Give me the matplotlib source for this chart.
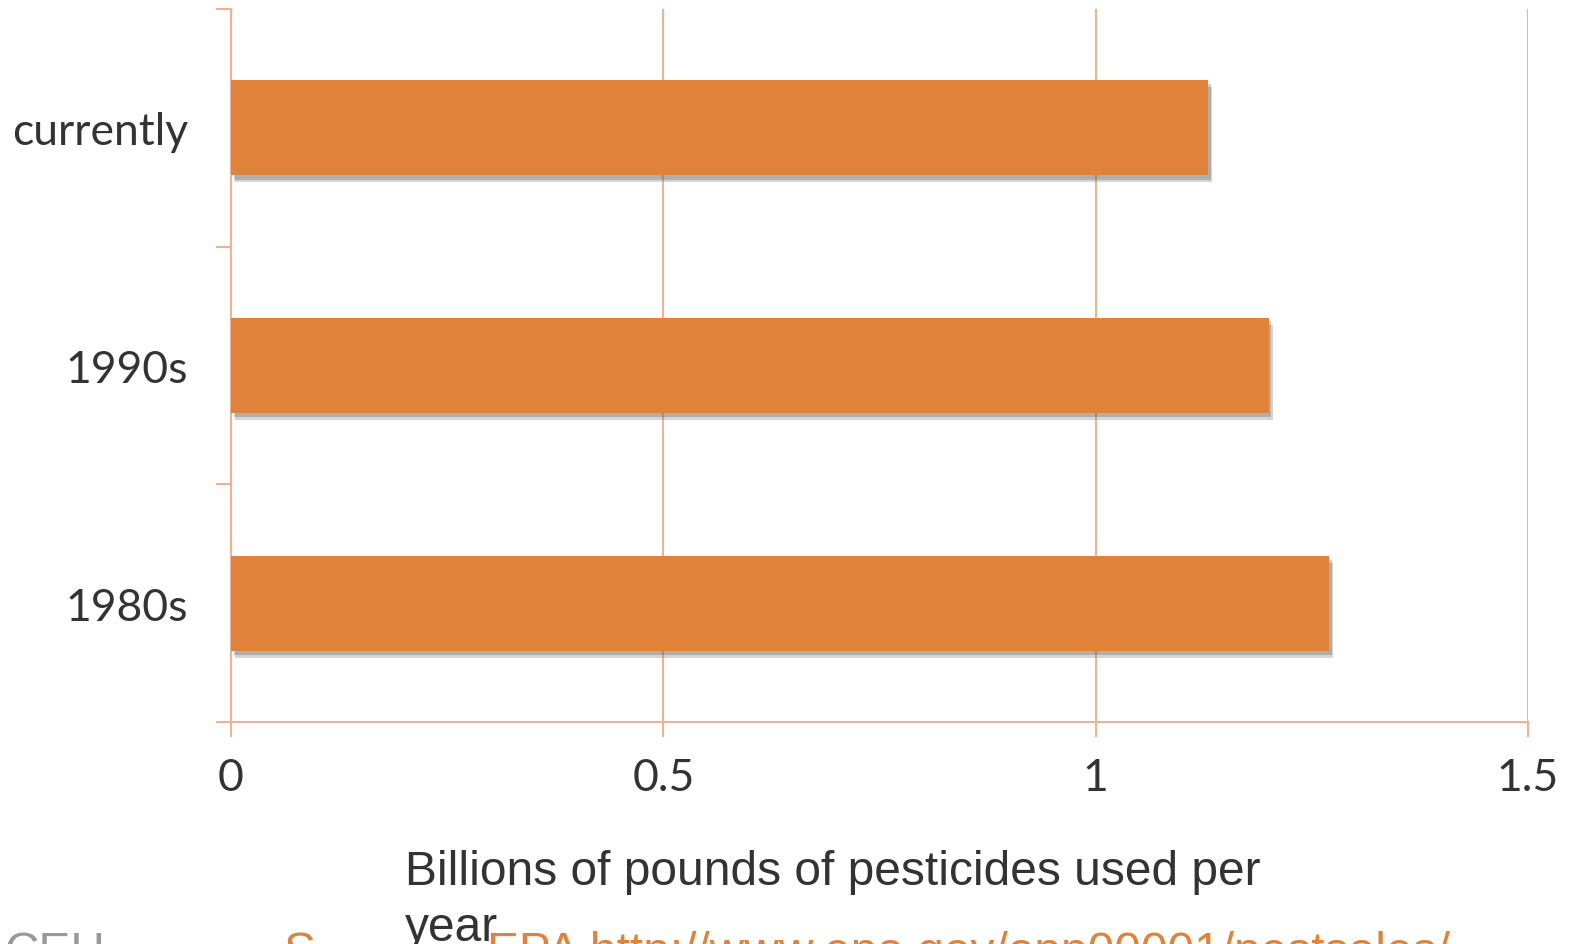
import matplotlib
matplotlib.use("Agg")
import matplotlib.pyplot as plt
import matplotlib.patheffects as pe

categories = ["1980s", "1990s", "currently"]
values = [1.27, 1.20, 1.13]
xticks = [0, 0.5, 1, 1.5]
xtick_labels = ["0", "0.5", "1", "1.5"]
xlabel = "Billions of pounds of pesticides used per\nyear"

W, H = 1573, 945
fig = plt.figure(figsize=(W / 100, H / 100), dpi=100)
ax = fig.add_axes([231 / W, 1 - 723 / H, (1528 - 231) / W, (723 - 10) / H])

bar_color = "#E1823A"
grid_color = "#F0B296"
text_color = "#333333"

ypos = list(range(len(categories)))
bars = ax.barh(ypos, values, height=0.40, color=bar_color, zorder=3)
for b in bars:
    b.set_path_effects([pe.SimplePatchShadow(offset=(3, -5), shadow_rgbFace="#777777", alpha=0.3),
                        pe.SimplePatchShadow(offset=(2, -3), shadow_rgbFace="#555555", alpha=0.3),
                        pe.Normal()])

ax.set_xlim(0, 1.5)
ax.set_ylim(-0.5, 2.5)
ax.set_xticks(xticks)
ax.set_xticklabels(xtick_labels, fontfamily="Lato", fontsize=32, color=text_color)
ax.set_yticks(ypos)
ax.set_yticklabels(categories, fontfamily="Lato", fontsize=32, color=text_color)
ax.set_yticks([-0.5, 0.5, 1.5, 2.5], minor=True)
ax.tick_params(axis="y", which="major", length=0, pad=31)
ax.tick_params(axis="y", which="minor", length=11, color=grid_color, width=1.5)
ax.tick_params(axis="x", which="major", length=11, color=grid_color, width=1.5, pad=14)

ax.grid(axis="x", color=grid_color, linewidth=1.5, zorder=0)
for s in ["top", "right"]:
    ax.spines[s].set_visible(False)
for s in ["left", "bottom"]:
    ax.spines[s].set_color(grid_color)
    ax.spines[s].set_linewidth(1.5)

fig.text(405 / W, 1 - 850 / H, xlabel, fontfamily="Liberation Sans", fontsize=34.5,
         color=text_color, ha="left", va="top", linespacing=1.32, zorder=5)

fig.text(5 / W, 1 - 931 / H, "CEH", fontfamily="Liberation Sans", fontsize=34.5,
         color="#999999", ha="left", va="top")
fig.text(284 / W, 1 - 931 / H, "S", fontfamily="Liberation Sans", fontsize=34.5,
         color=bar_color, ha="left", va="top")
fig.text(487 / W, 1 - 931 / H, "EPA http://www.epa.gov/opp00001/pestsales/",
         fontfamily="Liberation Sans", fontsize=34.5, color=bar_color, ha="left", va="top")

fig.savefig("out.png", dpi=100)
